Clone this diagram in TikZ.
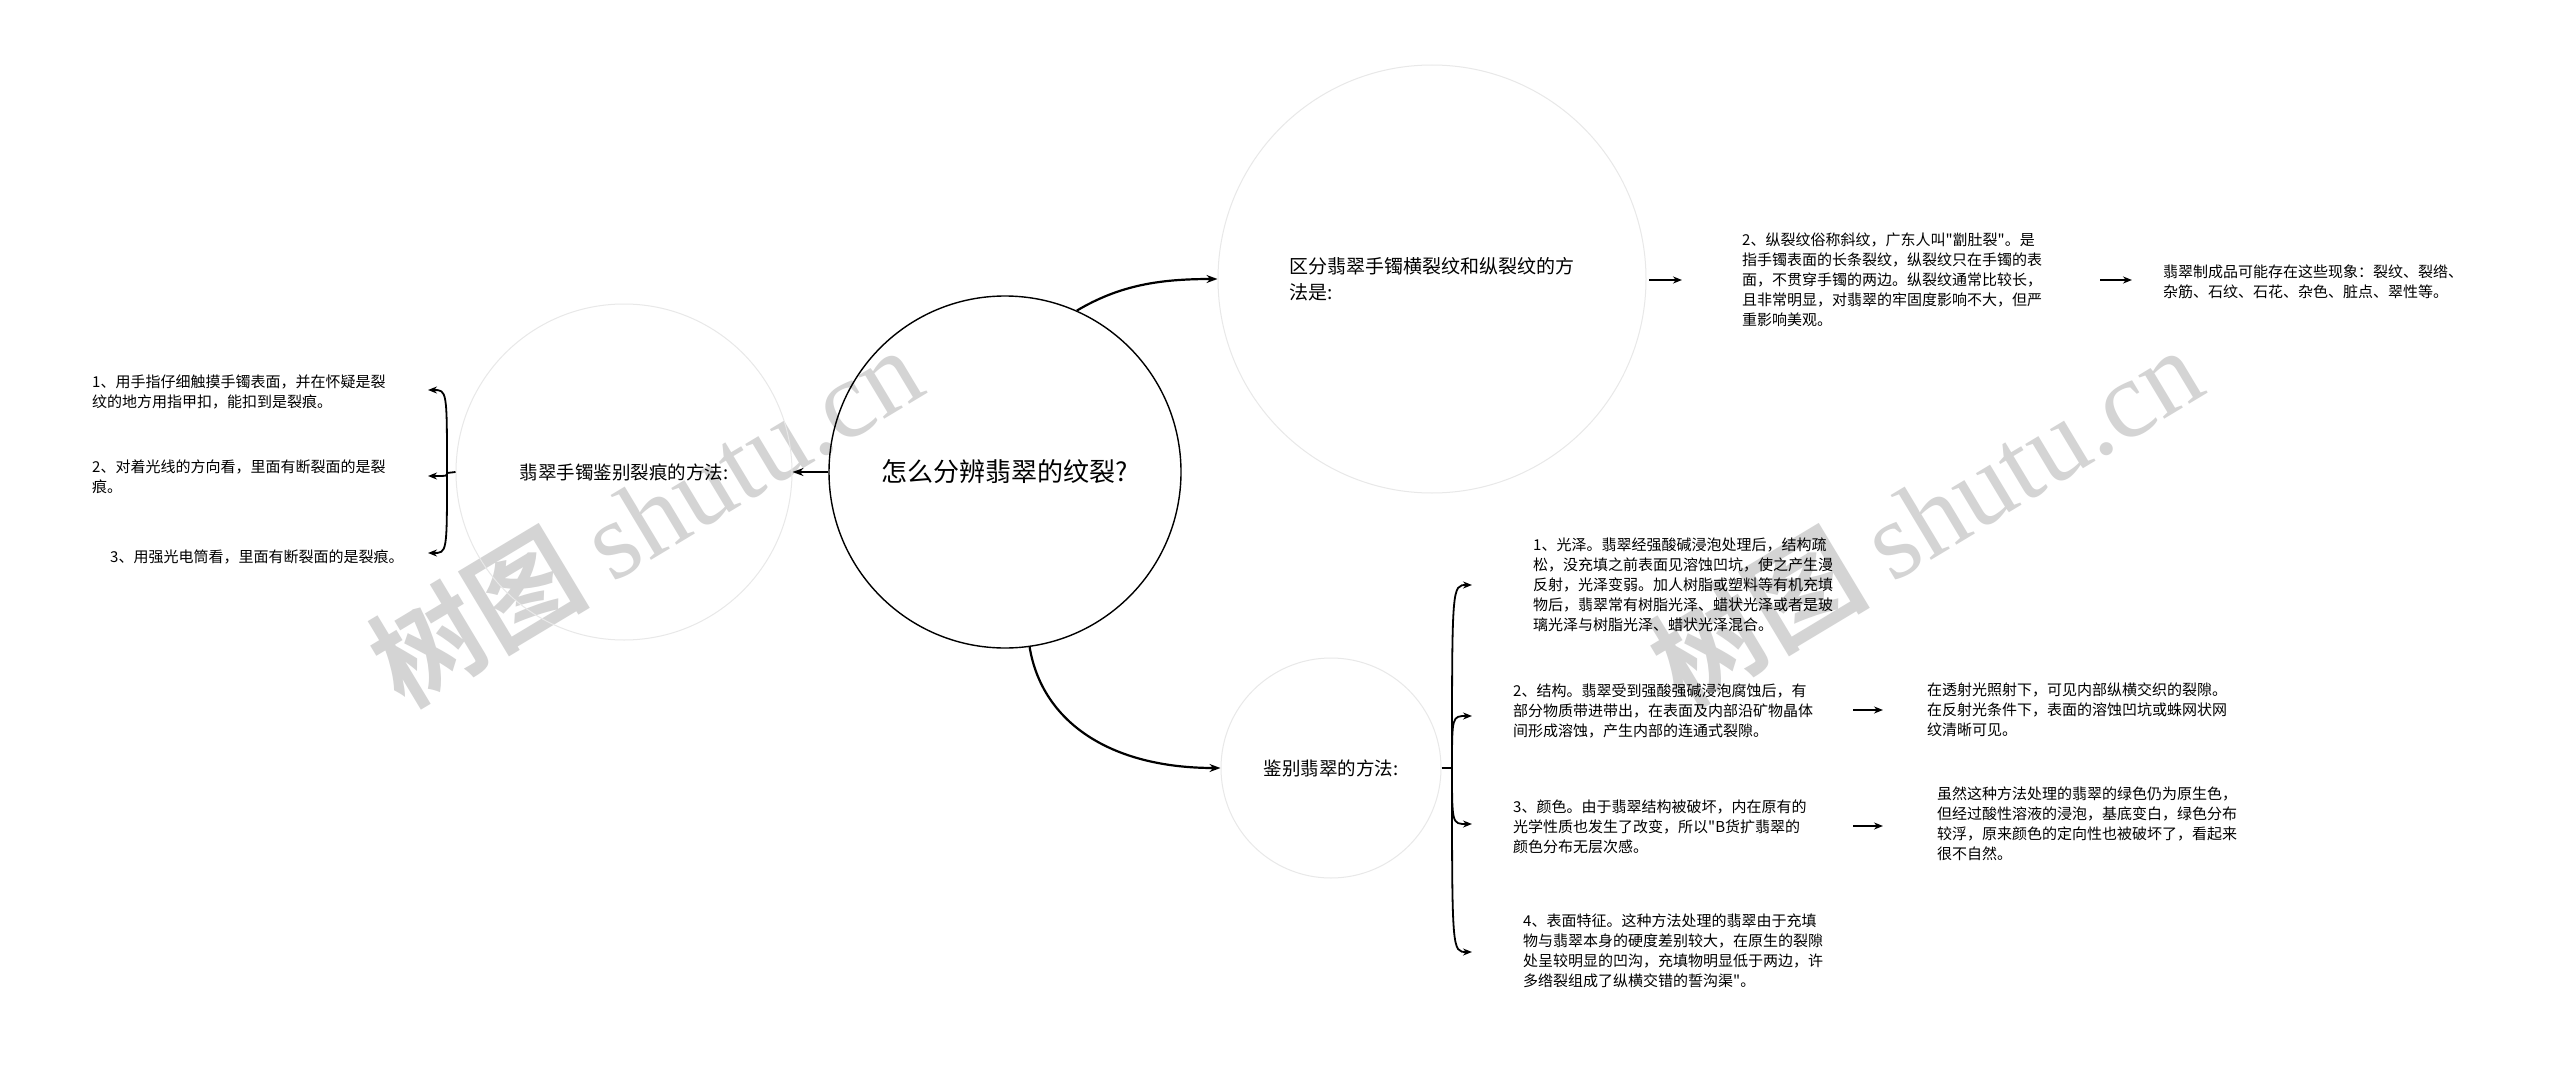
\documentclass[tikz,border=0pt]{standalone}
\usepackage{fontspec}
\setmainfont{Noto Sans CJK SC}[Ligatures=TeXOff]
\newfontfamily\wmserif{Liberation Serif}
\newfontfamily\wmcjk{Noto Sans CJK SC Bold}
\usetikzlibrary{arrows.meta}
\begin{document}
\begin{tikzpicture}[x=1pt,y=-1pt,
  faint/.style={circle, draw=black!9, line width=1pt, inner sep=0pt, align=left},
  txt/.style={inner sep=0pt, align=left, anchor=west, font=\fontsize{15}{20}\selectfont},
  wm/.style={text=black!17, inner sep=0pt, font=\fontsize{110}{120}\selectfont},
  mainarr/.style={line width=2.2pt, -{Stealth[length=11pt,width=8pt]}},
  sarr/.style={line width=1.6pt, -{Stealth[length=9pt,width=7pt]}},
  brk/.style={line width=1.8pt},
  brka/.style={line width=1.8pt, -{Stealth[length=9pt,width=7pt]}}]
\useasboundingbox (0,0) rectangle (2560,1065);
\fill[white] (0,0) rectangle (2560,1065);
% watermarks
\node[wm, rotate=31] (w1) at (645,515) {{\wmcjk 树图} {\wmserif shutu.cn}};
\node[wm, rotate=31] (w2) at (1925,515) {{\wmcjk 树图} {\wmserif shutu.cn}};
% central
\node[circle, draw=black, line width=1.4pt, minimum size=352pt, inner sep=0pt,
  font=\fontsize{26}{32}\selectfont] (c) at (1005,472) {怎么分辨翡翠的纹裂?};
% left node
\node[faint, minimum size=336pt, font=\fontsize{18.5}{24}\selectfont] (ln) at (624,472) {翡翠手镯鉴别裂痕的方法:};
% top right node
\node[faint, minimum size=428pt, font=\fontsize{19}{26}\selectfont] (tn) at (1432,279) {区分翡翠手镯横裂纹和纵裂纹的方\\法是:};
% bottom node
\node[faint, minimum size=220pt, font=\fontsize{18.5}{24}\selectfont] (bn) at (1331,768) {鉴别翡翠的方法:};
% main connectors
\draw[mainarr] (c.west) -- (ln.east);
\draw[mainarr] (c.66) .. controls (1120,285) and (1160,279) .. (tn.west);
\draw[mainarr] (c.-82) .. controls (1042,722) and (1110,768) .. (bn.west);
% left texts
\node[txt] (l1) at (92,392) {1、用手指仔细触摸手镯表面，并在怀疑是裂\\纹的地方用指甲扣，能扣到是裂痕。};
\node[txt] (l2) at (92,477) {2、对着光线的方向看，里面有断裂面的是裂\\痕。};
\node[txt] (l3) at (110,557) {3、用强光电筒看，里面有断裂面的是裂痕。};
\coordinate (lj) at (447,473);
\coordinate (lt1) at (428,390);
\coordinate (lt2) at (428,476);
\coordinate (lt3) at (428,553);
\draw[brk] (ln.west) -- (lj);
\draw[brka] (lj) .. controls (lj|-lt1) .. (lt1);
\draw[brka] (lj) .. controls (lj|-lt2) .. (lt2);
\draw[brka] (lj) .. controls (lj|-lt3) .. (lt3);
% top right texts
\node[txt] (t2) at (1742,280) {2、纵裂纹俗称斜纹，广东人叫"劏肚裂"。是\\指手镯表面的长条裂纹，纵裂纹只在手镯的表\\面，不贯穿手镯的两边。纵裂纹通常比较长，\\且非常明显，对翡翠的牢固度影响不大，但严\\重影响美观。};
\node[txt] (tf) at (2163,282) {翡翠制成品可能存在这些现象：裂纹、裂绺、\\杂筋、石纹、石花、杂色、脏点、翠性等。};
\coordinate (a1s) at (1649,280);
\coordinate (a1e) at (1682,280);
\coordinate (a0s) at (2100,280);
\coordinate (a0e) at (2132,280);
\draw[sarr] (a1s) -- (a1e);
\draw[sarr] (a0s) -- (a0e);
% bottom texts
\node[txt] (b1) at (1533,585) {1、光泽。翡翠经强酸碱浸泡处理后，结构疏\\松，没充填之前表面见溶蚀凹坑，使之产生漫\\反射，光泽变弱。加人树脂或塑料等有机充填\\物后，翡翠常有树脂光泽、蜡状光泽或者是玻\\璃光泽与树脂光泽、蜡状光泽混合。};
\node[txt] (b2) at (1513,711) {2、结构。翡翠受到强酸强碱浸泡腐蚀后，有\\部分物质带进带出，在表面及内部沿矿物晶体\\间形成溶蚀，产生内部的连通式裂隙。};
\node[txt] (b3) at (1513,827) {3、颜色。由于翡翠结构被破坏，内在原有的\\光学性质也发生了改变，所以"B货扩翡翠的\\颜色分布无层次感。};
\node[txt] (b4) at (1523,951) {4、表面特征。这种方法处理的翡翠由于充填\\物与翡翠本身的硬度差别较大，在原生的裂隙\\处呈较明显的凹沟，充填物明显低于两边，许\\多绺裂组成了纵横交错的誓沟渠"。};
\node[txt] (r2) at (1927,710) {在透射光照射下，可见内部纵横交织的裂隙。\\在反射光条件下，表面的溶蚀凹坑或蛛网状网\\纹清晰可见。};
\node[txt] (r3) at (1937,824) {虽然这种方法处理的翡翠的绿色仍为原生色，\\但经过酸性溶液的浸泡，基底变白，绿色分布\\较浮，原来颜色的定向性也被破坏了，看起来\\很不自然。};
\coordinate (bj) at (1452,768);
\coordinate (bt1) at (1472,585);
\coordinate (bt2) at (1472,716);
\coordinate (bt3) at (1472,824);
\coordinate (bt4) at (1472,952);
\draw[brk] (bn.east) -- (bj);
\draw[brka] (bj) .. controls (bj|-bt1) .. (bt1);
\draw[brka] (bj) .. controls (bj|-bt2) .. (bt2);
\draw[brka] (bj) .. controls (bj|-bt3) .. (bt3);
\draw[brka] (bj) .. controls (bj|-bt4) .. (bt4);
\coordinate (a2s) at (1853,710);
\coordinate (a2e) at (1883,710);
\coordinate (a3s) at (1853,826);
\coordinate (a3e) at (1883,826);
\draw[sarr] (a2s) -- (a2e);
\draw[sarr] (a3s) -- (a3e);
\end{tikzpicture}
\end{document}
